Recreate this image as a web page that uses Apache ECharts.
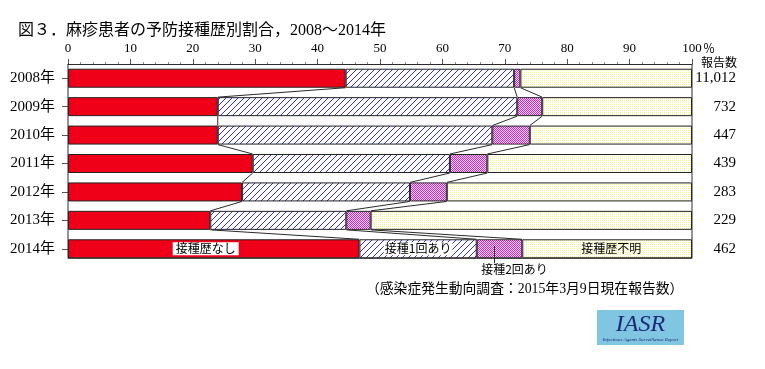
<!DOCTYPE html>
<html><head><meta charset="utf-8">
<script src="https://cdn.jsdelivr.net/npm/echarts@6/dist/echarts.min.js"></script>
<style>html,body{margin:0;padding:0;background:#fff}#c{width:765px;height:369px}</style>
</head><body><div id="c"></div>
<script>
const categories = ['2008年','2009年','2010年','2011年','2012年','2013年','2014年'];
const reportCounts = ['11,012','732','447','439','283','229','462'];
const noVaccine = [44.5, 24.0, 24.0, 29.6, 27.9, 22.8, 46.7];
const oneDose   = [27.0, 48.0, 44.0, 31.6, 26.9, 21.8, 18.8];
const twoDoses  = [1.0, 4.0, 6.0, 6.0, 5.9, 3.9, 7.3];
const unknown   = noVaccine.map((v,i)=> +(100 - v - oneDose[i] - twoDoses[i]).toFixed(1));
const xTicks = [0,10,20,30,40,50,60,70,80,90,100];

const SERIF = "'Liberation Serif','Noto Sans CJK JP'";
const JP = "'Noto Sans CJK JP'";

function makePattern(w, h, fn){
  const c = document.createElement('canvas'); c.width = w; c.height = h;
  const ctx = c.getContext('2d'); const img = ctx.createImageData(w, h);
  for (let y=0;y<h;y++) for (let x=0;x<w;x++){
    const col = fn(x,y); const k=(y*w+x)*4;
    img.data[k]=col[0]; img.data[k+1]=col[1]; img.data[k+2]=col[2]; img.data[k+3]=255;
  }
  ctx.putImageData(img,0,0);
  return {image:c, repeat:'repeat'};
}
const hatch = makePattern(6,6,(x,y)=> ((x+y)%6===5) ? [50,50,225] : [255,255,255]);
const cross = makePattern(2,2,(x,y)=> ((x+y)%2===0) ? [235,20,225] : [255,235,255]);
const dots  = makePattern(2,2,(x,y)=> (x===0 && y===0) ? [245,242,150] : [255,255,252]);

const BAR_W = 19;
const c1 = noVaccine;
const c2 = noVaccine.map((v,i)=> v + oneDose[i]);
const c3 = c2.map((v,i)=> v + twoDoses[i]);
const last = categories.length - 1;

function renderItem(params, api){
  const i = params.dataIndex;
  const half = BAR_W/2;
  const band = api.size([0,1])[1];
  const ch = [];
  const st = {stroke:'#2a2a2a', lineWidth:1, fill:null};
  if (i < last){
    [c1,c2,c3].forEach(b=>{
      const p1 = api.coord([b[i], i]); const p2 = api.coord([b[i+1], i+1]);
      ch.push({type:'line', shape:{x1:p1[0], y1:p1[1]+half, x2:p2[0], y2:p2[1]-half}, style:st});
    });
  } else {
    const tl = api.coord([0,0]); const tr = api.coord([100,0]); const b = api.coord([0,last]);
    const top = tl[1] - band/2, bot = b[1] + half;
    ch.push({type:'polyline', shape:{points:[[tl[0],top],[tl[0],bot],[tr[0],bot],[tr[0],top]]}, style:st});
    const p = api.coord([(c2[last]+c3[last])/2, last]);
    ch.push({type:'line', shape:{x1:p[0]-5, y1:p[1]-3, x2:p[0]-5, y2:p[1]+half+5}, style:st});
  }
  return {type:'group', children:ch};
}

const lbl = (text, extra)=> Object.assign({show:true, formatter:text, fontSize:12, fontFamily:JP, color:'#000'}, extra);
const border = {borderColor:'#222', borderWidth:1};

const chart = echarts.init(document.getElementById('c'), null, {renderer:'canvas'});
chart.setOption({
  animation:false,
  backgroundColor:'#fff',
  title:{text:'図３．麻疹患者の予防接種歴別割合，2008～2014年', left:13, top:18,
    textStyle:{fontSize:16, fontWeight:'normal', fontFamily:SERIF, color:'#000'}},
  grid:{left:68, right:73, top:64, height:199, containLabel:false},
  xAxis:{type:'value', position:'top', min:0, max:100, interval:10,
    axisLine:{show:true, lineStyle:{color:'#2a2a2a', width:1}},
    axisTick:{show:true, length:5, lineStyle:{color:'#555'}},
    minorTick:{show:true, splitNumber:5, length:2, lineStyle:{color:'#888'}},
    splitLine:{show:false},
    axisLabel:{margin:9, fontSize:13, fontFamily:SERIF, color:'#000',
      formatter:v=> xTicks.includes(v) ? String(v) : ''}},
  yAxis:[
    {type:'category', inverse:true, data:categories,
      axisLine:{show:false},
      axisTick:{show:true, alignWithLabel:true, length:6, lineStyle:{color:'#555'}},
      axisLabel:{margin:13, fontSize:15, fontFamily:SERIF, color:'#000'}},
    {type:'category', inverse:true, position:'right', data:reportCounts,
      axisLine:{show:false}, axisTick:{show:false},
      axisLabel:{margin:44, align:'right', fontSize:15, fontFamily:SERIF, color:'#000'}}
  ],
  series:[
    {name:'接種歴なし', type:'bar', stack:'t', barWidth:BAR_W,
      itemStyle:Object.assign({color:'#f00018'}, border),
      data:noVaccine.map((v,i)=> i===last ? {value:v, label:lbl('接種歴なし',{position:'inside', offset:[-8,0], backgroundColor:'#fff', padding:[1,3,0,3]})} : v)},
    {name:'接種1回あり', type:'bar', stack:'t', barWidth:BAR_W,
      itemStyle:Object.assign({color:hatch}, border),
      data:oneDose.map((v,i)=> i===last ? {value:v, label:lbl('接種1回あり',{position:'inside', backgroundColor:'#fff', padding:[1,1,0,1]})} : v)},
    {name:'接種2回あり', type:'bar', stack:'t', barWidth:BAR_W,
      itemStyle:Object.assign({color:cross}, border),
      data:twoDoses.map((v,i)=> i===last ? {value:v, label:lbl('接種2回あり',{position:'bottom', distance:5, offset:[15,0]})} : v)},
    {name:'接種歴不明', type:'bar', stack:'t', barWidth:BAR_W,
      itemStyle:Object.assign({color:dots}, border),
      data:unknown.map((v,i)=> i===last ? {value:v, label:lbl('接種歴不明',{position:'inside', offset:[4,0]})} : v)},
    {type:'custom', renderItem:renderItem, z:5, silent:true,
      data:categories.map((c,i)=>[0,i])}
  ],
  graphic:[
    {type:'text', left:703, top:42, style:{text:'％', fontSize:12, fontFamily:JP, fill:'#000'}},
    {type:'text', right:28, top:56, style:{text:'報告数', fontSize:12, fontFamily:JP, fill:'#000'}},
    {type:'text', left:366, top:282, style:{text:'（感染症発生動向調査：2015年3月9日現在報告数）', fontSize:13.8, fontFamily:SERIF, fill:'#000'}},
    {type:'group', left:597, top:310, children:[
      {type:'rect', shape:{x:0,y:0,width:87,height:35}, style:{fill:'#80c6e2'}},
      {type:'text', x:43.5, y:15, style:{text:'IASR', fontSize:24, fontStyle:'italic', fontFamily:"'Liberation Serif'", fill:'#1c2a78', align:'center', verticalAlign:'middle'}},
      {type:'text', x:43.5, y:30, style:{text:'Infectious Agents Surveillance Report', fontSize:5, fontStyle:'italic', fontFamily:"'Liberation Serif'", fill:'#1c2a78', align:'center', verticalAlign:'middle'}}
    ]}
  ]
});
</script></body></html>
